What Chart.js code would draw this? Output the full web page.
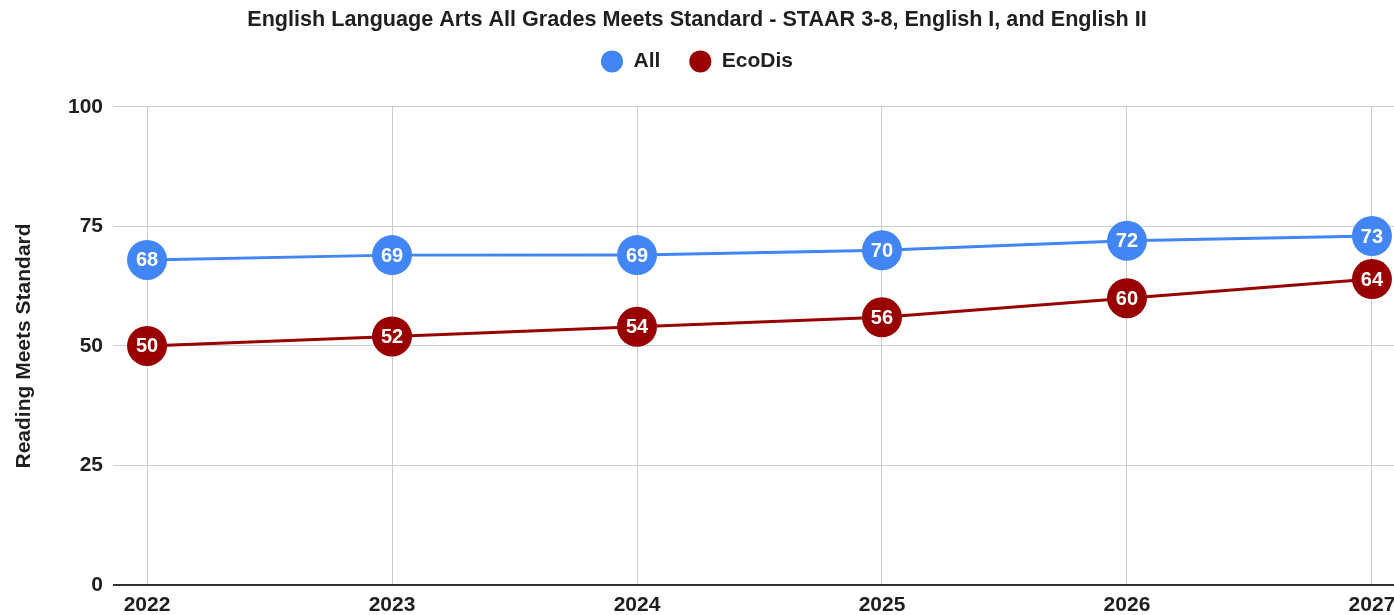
<!DOCTYPE html>
<html>
<head>
<meta charset="utf-8">
<script src="https://cdn.jsdelivr.net/npm/chart.js@4"></script>
<style>
  html, body { margin: 0; padding: 0; background: #fff; overflow: hidden; }
  #wrap { position: relative; width: 1394px; height: 615px; }
</style>
</head>
<body>
<div id="wrap"><canvas id="chart"></canvas></div>
<script>
const years = [2022, 2023, 2024, 2025, 2026, 2027];
const allValues = [68, 69, 69, 70, 72, 73];
const ecoDisValues = [50, 52, 54, 56, 60, 64];
const yTicks = [0, 25, 50, 75, 100];

const FONT = '"Liberation Sans", Arial, sans-serif';
const BLUE = '#4285f4';
const RED = '#990000';
const TEXT = '#1f1f1f';

// white numbers in the middle of each point
const pointLabels = {
  id: 'pointLabels',
  afterDatasetsDraw(chart) {
    const { ctx } = chart;
    ctx.save();
    ctx.fillStyle = '#fff';
    ctx.font = 'bold 20px ' + FONT;
    ctx.textAlign = 'center';
    ctx.textBaseline = 'middle';
    chart.data.datasets.forEach((ds, i) => {
      const meta = chart.getDatasetMeta(i);
      meta.data.forEach((pt, j) => {
        ctx.fillText(String(ds.data[j].y), pt.x, pt.y + 1);
      });
    });
    ctx.restore();
  },
};

const toPoints = (vals) => vals.map((v, i) => ({ x: years[i], y: v }));

new Chart(document.getElementById('chart'), {
  type: 'line',
  data: {
    datasets: [
      {
        label: 'All',
        data: toPoints(allValues),
        xAxisID: 'x',
        yAxisID: 'y',
        borderColor: BLUE,
        backgroundColor: BLUE,
        borderWidth: 3,
        pointRadius: 20,
        pointHoverRadius: 20,
        pointBorderWidth: 0,
      },
      {
        label: 'EcoDis',
        data: toPoints(ecoDisValues),
        xAxisID: 'x',
        yAxisID: 'y',
        borderColor: RED,
        backgroundColor: RED,
        borderWidth: 3,
        pointRadius: 20,
        pointHoverRadius: 20,
        pointBorderWidth: 0,
      },
    ],
  },
  options: {
    responsive: true,
    maintainAspectRatio: false,
    animation: false,
    layout: { padding: 0, autoPadding: false },
    plugins: {
      title: {
        display: true,
        text: 'English Language Arts All Grades Meets Standard - STAAR 3-8, English I, and English II',
        color: TEXT,
        font: { family: FONT, size: 21.6, weight: 'bold' },
        padding: { top: 7, bottom: -11 },
      },
      legend: {
        labels: {
          usePointStyle: true,
          pointStyle: 'circle',
          boxHeight: 15.6,
          pointStyleWidth: 22,
          color: TEXT,
          font: { family: FONT, size: 21, weight: 'bold' },
          padding: 29,
        },
      },
      tooltip: { enabled: false },
    },
    scales: {
      // empty band between legend and plot
      gap: {
        type: 'linear',
        axis: 'x',
        position: 'top',
        ticks: { display: false },
        grid: { display: false },
        border: { display: false },
        afterFit: (scale) => { scale.height = 25; scale.paddingLeft = 0; scale.paddingRight = 0; },
      },
      x: {
        type: 'linear',
        min: 2021.861,
        max: 2027.09,
        afterBuildTicks: (scale) => { scale.ticks = years.map((v) => ({ value: v })); },
        afterFit: (scale) => { scale.height = 30; scale.paddingLeft = 0; scale.paddingRight = 0; },
        ticks: {
          color: TEXT,
          font: { family: FONT, size: 21, weight: 'bold' },
          padding: 8,
          maxRotation: 0,
          callback: (v) => String(v),
        },
        grid: { color: '#cccccc', drawTicks: false },
        border: { display: false },
      },
      y: {
        min: 0,
        max: 100,
        afterBuildTicks: (scale) => { scale.ticks = yTicks.map((v) => ({ value: v })); },
        afterFit: (scale) => { scale.width = 113; },
        ticks: {
          color: TEXT,
          font: { family: FONT, size: 21, weight: 'bold' },
          padding: 10,
        },
        grid: {
          color: (c) => (c.tick && c.tick.value === 0 ? '#333333' : '#cccccc'),
          lineWidth: (c) => (c.tick && c.tick.value === 0 ? 2 : 1),
          drawTicks: false,
        },
        border: { display: false },
        title: {
          display: true,
          text: 'Reading Meets Standard',
          color: TEXT,
          font: { family: FONT, size: 21, weight: 'bold' },
          padding: { top: 12, bottom: 0 },
        },
      },
    },
  },
  plugins: [pointLabels],
});
</script>
</body>
</html>
